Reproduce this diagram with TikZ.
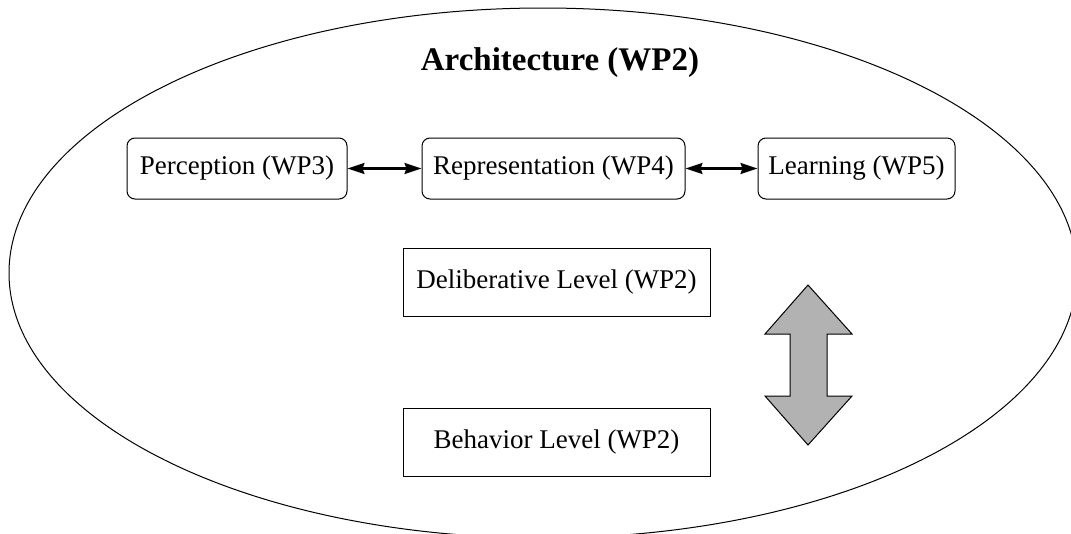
\documentclass[tikz,border=0pt]{standalone}
\usepackage{fontspec}
\setmainfont{Liberation Serif}
\usetikzlibrary{arrows.meta}
\definecolor{arrowgray}{gray}{0.70}
\begin{document}
\begin{tikzpicture}[x=1pt,y=-1pt,
  wpbox/.style={draw=black, line width=1pt, rounded corners=8pt,
    minimum height=61pt, inner sep=0pt, font=\fontsize{27}{32}\selectfont},
  levelbox/.style={draw=black, line width=1pt, minimum width=307pt,
    minimum height=68pt, inner sep=0pt, font=\fontsize{27}{32}\selectfont},
  link/.style={line width=2.2pt,
    {Stealth[length=17pt,width=11pt,inset=2pt]}-{Stealth[length=17pt,width=11pt,inset=2pt]}},
  bigarrow/.style={draw=black, line width=1pt, fill=arrowgray, line join=miter}]
  \useasboundingbox (0,0) rectangle (1071,533);
  % enclosing ellipse, cut by the page edges
  \begin{scope}
    \clip (0,0) rectangle (1071,533);
    \draw[line width=1pt] (543,273) ellipse [x radius=534, y radius=265];
  \end{scope}
  % title
  \node[font=\fontsize{33}{40}\selectfont\bfseries, anchor=base] (title) at (560,70) {Architecture (WP2)};
  % work-package boxes
  \node[wpbox, minimum width=220pt] (perc) at (237,168.5) {Perception (WP3)};
  \node[wpbox, minimum width=263pt] (repr) at (553.5,168.5) {Representation (WP4)};
  \node[wpbox, minimum width=197pt] (learn) at (856.5,168.5) {Learning (WP5)};
  \draw[link] (perc) -- (repr);
  \draw[link] (repr) -- (learn);
  % levels
  \node[levelbox] (delib) at (556.5,282) {Deliberative Level (WP2)};
  \node[levelbox] (behav) at (556.5,442) {Behavior Level (WP2)};
  % double block arrow between the levels
  \draw[bigarrow] (808,285) -- (852,334) -- (827,334) -- (827,396) -- (852,396)
    -- (808,445) -- (765,396) -- (790,396) -- (790,334) -- (765,334) -- cycle;
\end{tikzpicture}
\end{document}
